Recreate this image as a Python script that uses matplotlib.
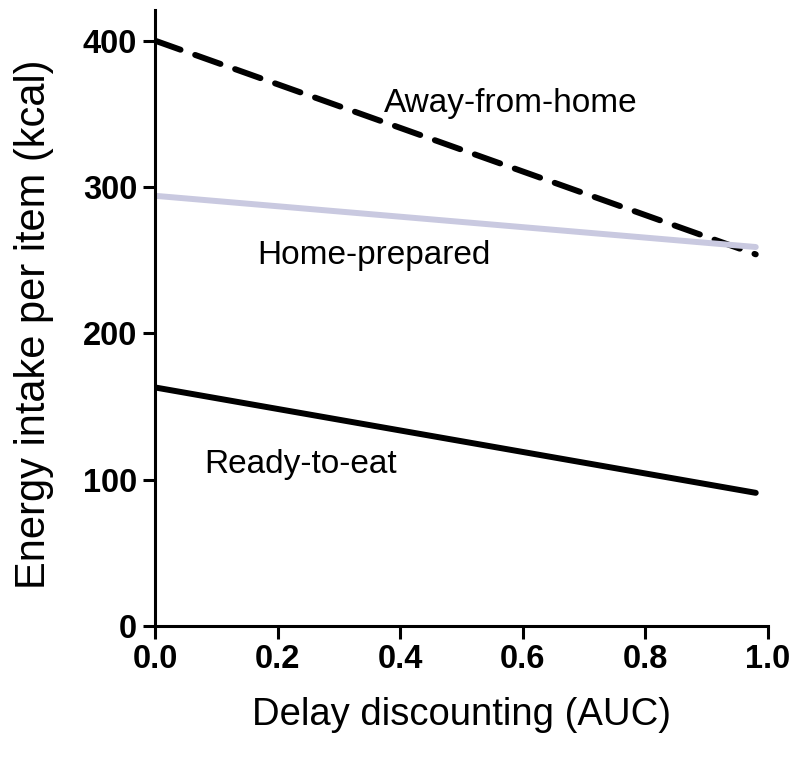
import numpy as np
import matplotlib.pyplot as plt

plt.rcParams['font.family'] = ['Liberation Sans', 'DejaVu Sans']

# data: fitted lines at x = 0 and x = 0.98
auc = [0.0, 0.98]
away_from_home = [400, 254]
home_prepared = [294, 259]
ready_to_eat = [163, 91]

labels = ["Away-from-home", "Home-prepared", "Ready-to-eat"]
label_pos = [(0.581, 351.5), (0.357, 247.5), (0.238, 104.5)]

fig = plt.figure(figsize=(8, 7.69), dpi=100)
ax = fig.add_axes([0.194, 0.186, 0.766, 0.801])

ax.plot(auc, away_from_home, color="black", lw=4.3, ls=(0, (4.5, 2.6)),
        solid_capstyle="round", dash_capstyle="round")
ax.plot(auc, home_prepared, color="#c9c9e0", lw=4.3, solid_capstyle="round")
ax.plot(auc, ready_to_eat, color="black", lw=4.3, solid_capstyle="round")

for txt, (x, y) in zip(labels, label_pos):
    ax.text(x, y, txt, fontsize=24, ha="center", va="baseline")

ax.set_xlim(0, 1.0)
ax.set_ylim(0, 421)
ax.set_xticks([0.0, 0.2, 0.4, 0.6, 0.8, 1.0])
ax.set_xticklabels(["0.0", "0.2", "0.4", "0.6", "0.8", "1.0"])
ax.set_yticks([0, 100, 200, 300, 400])

for s in ["top", "right"]:
    ax.spines[s].set_visible(False)
for s in ["left", "bottom"]:
    ax.spines[s].set_linewidth(2.2)
ax.tick_params(width=2.2, length=9, pad=4)
for t in ax.get_xticklabels() + ax.get_yticklabels():
    t.set_fontweight("bold")
    t.set_fontsize(23.5)

ax.set_xlabel("Delay discounting (AUC)", fontsize=27.5)
ax.set_ylabel("Energy intake per item (kcal)", fontsize=30)
ax.xaxis.set_label_coords(0.5, -0.116)
ax.yaxis.set_label_coords(-0.165, 0.49)

fig.savefig("out.png", dpi=100)
